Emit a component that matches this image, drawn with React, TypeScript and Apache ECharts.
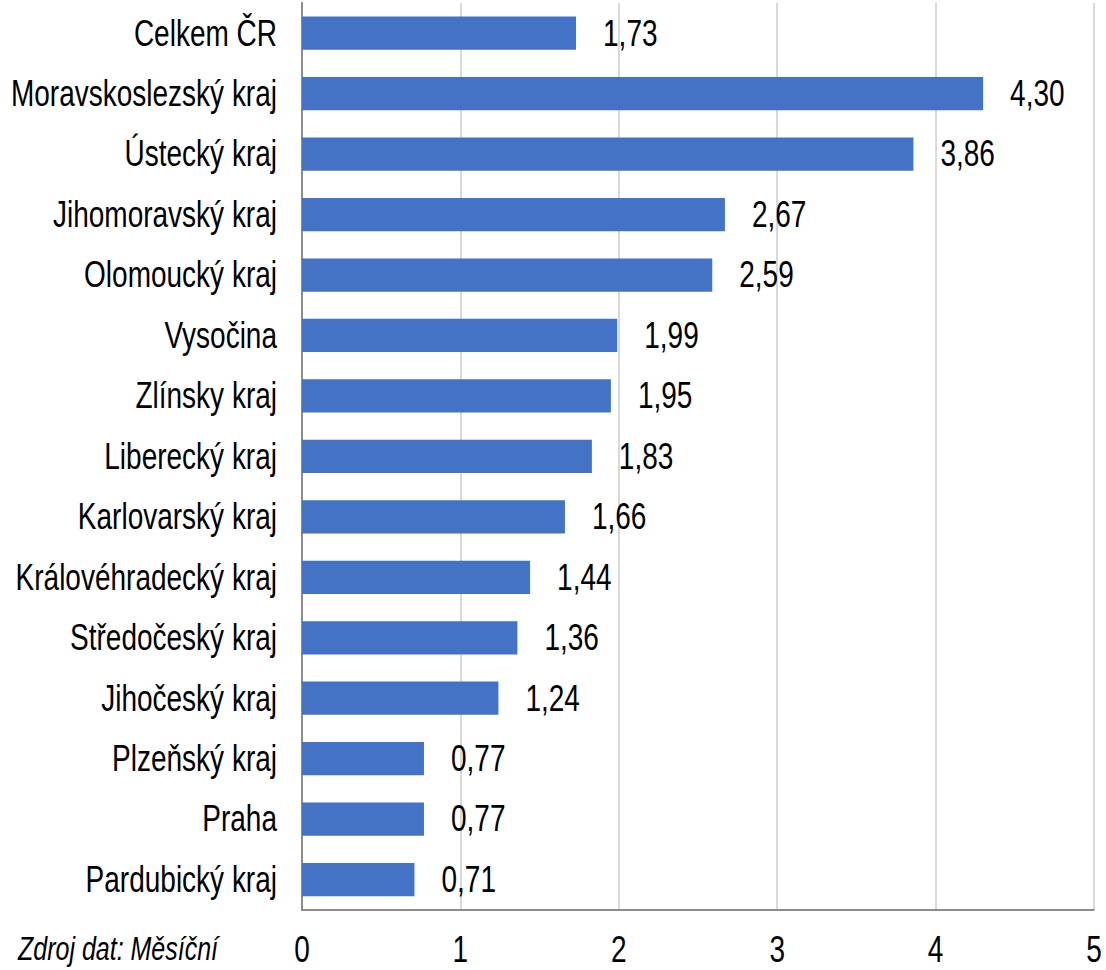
import React, { useEffect, useRef } from "react";
import * as echarts from "echarts";

const categories = [
  "Celkem ČR",
  "Moravskoslezský kraj",
  "Ústecký kraj",
  "Jihomoravský kraj",
  "Olomoucký kraj",
  "Vysočina",
  "Zlínsky kraj",
  "Liberecký kraj",
  "Karlovarský kraj",
  "Královéhradecký kraj",
  "Středočeský kraj",
  "Jihočeský kraj",
  "Plzeňský kraj",
  "Praha",
  "Pardubický kraj",
];
const values = [1.73, 4.3, 3.86, 2.67, 2.59, 1.99, 1.95, 1.83, 1.66, 1.44, 1.36, 1.24, 0.77, 0.77, 0.71];
const xTicks = [0, 1, 2, 3, 4, 5];
const sourceText = "Zdroj dat: Měsíční";

const FONT = '"Liberation Sans", Arial, sans-serif';
const STRETCH = 1.3;
const W = 1106;
const H = 970 / STRETCH;

export default function App() {
  const ref = useRef<HTMLDivElement>(null);
  useEffect(() => {
    if (!ref.current) return;
    const chart = echarts.init(ref.current, null, { renderer: "svg" });
    chart.setOption({
      animation: false,
      backgroundColor: "#ffffff",
      grid: {
        left: 302,
        right: 12,
        top: 3 / STRETCH,
        bottom: H - 910 / STRETCH,
        containLabel: false,
        outerBoundsMode: "none",
      },
      xAxis: {
        type: "value",
        min: xTicks[0],
        max: xTicks[xTicks.length - 1],
        interval: 1,
        axisLine: { show: true, lineStyle: { color: "#8c8c8c", width: 1.6 } },
        axisTick: { show: false },
        axisLabel: { fontFamily: FONT, fontSize: 28, color: "#000", margin: 950 / STRETCH - 910 / STRETCH - 14 },
        splitLine: { show: true, lineStyle: { color: "#d9d9d9", width: 2 } },
      },
      yAxis: {
        type: "category",
        data: categories,
        inverse: true,
        axisLine: { show: true, lineStyle: { color: "#8c8c8c", width: 2 } },
        axisTick: { show: false },
        axisLabel: { fontFamily: FONT, fontSize: 28, color: "#000", margin: 25 },
      },
      series: [
        {
          type: "bar",
          data: values,
          barWidth: "55%",
          itemStyle: { color: "#4472C4" },
          label: {
            show: true,
            position: "right",
            distance: 27,
            fontFamily: FONT,
            fontSize: 28,
            color: "#000",
            formatter: (p: any) => p.value.toFixed(2).replace(".", ","),
          },
        },
      ],
      graphic: [
        {
          type: "text",
          left: 18,
          top: 949 / STRETCH - 12.5,
          style: {
            text: sourceText,
            fontFamily: FONT,
            fontStyle: "italic",
            fontSize: 25,
            fill: "#000",
          },
        },
      ],
    });
    return () => chart.dispose();
  }, []);
  return (
    <div style={{ position: "absolute", left: 0, top: 0, width: W, height: 970, overflow: "hidden", background: "#fff" }}>
      <div
        ref={ref}
        style={{
          width: W,
          height: H,
          transform: `scaleY(${STRETCH})`,
          transformOrigin: "0 0",
        }}
      />
    </div>
  );
}
